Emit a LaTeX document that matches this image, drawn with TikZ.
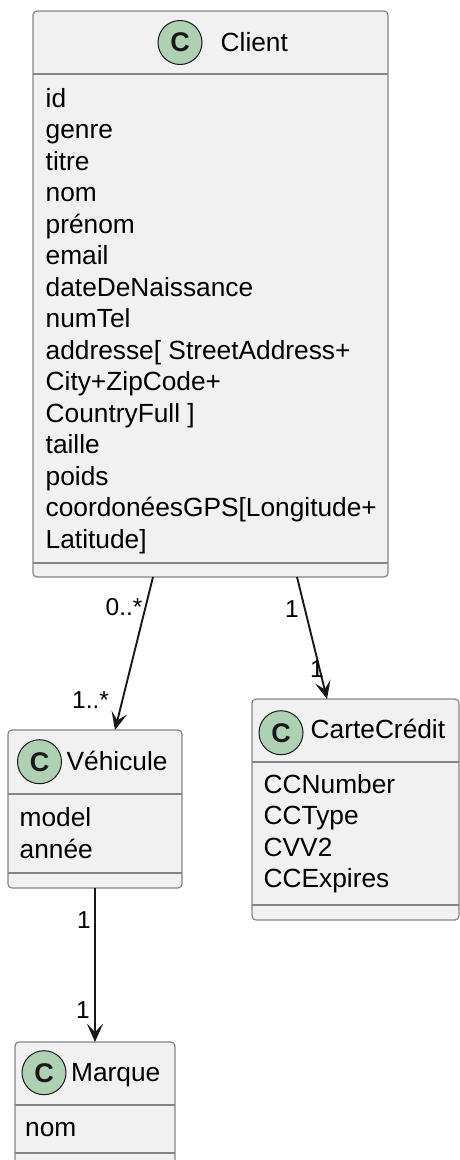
\documentclass[tikz,border=0pt]{standalone}
\usepackage{fontspec}
\setmainfont{Liberation Sans}
\usetikzlibrary{arrows.meta,calc}
\definecolor{boxfill}{HTML}{F1F1F1}
\definecolor{boxline}{HTML}{858585}
\definecolor{spot}{HTML}{ADD1B2}
\definecolor{ink}{HTML}{181818}
\begin{document}
\begin{tikzpicture}[x=1pt,y=-1pt,
  classbox/.style={draw=boxline, line width=1.2pt, fill=boxfill, rounded corners=4pt,
                   anchor=north west, inner sep=0pt, outer sep=0pt},
  sep/.style={draw=boxline, line width=1.2pt},
  spotc/.style={circle, draw=ink, line width=1pt, fill=spot, minimum size=44pt,
                inner sep=0pt, font=\fontsize{27}{27}\selectfont\bfseries, text=ink},
  title/.style={anchor=base west, inner sep=0pt, font=\fontsize{26.3}{31.5}\selectfont},
  attr/.style={anchor=base west, inner sep=0pt, font=\fontsize{26.3}{31.5}\selectfont},
  mult/.style={anchor=base west, inner sep=0pt, font=\fontsize{24.5}{29}\selectfont},
  assoc/.style={draw=ink, line width=1.9pt, -{Stealth[length=18pt,width=16pt,inset=8pt]}}
]
\useasboundingbox (0,0) rectangle (460,1160);

% ---- Client ----
\node[classbox, minimum width=355pt, minimum height=566pt] (client) at (33,11) {};
\draw[sep] (client.west |- 0,74) -- (client.east |- 0,74);
\draw[sep] (client.west |- 0,563) -- (client.east |- 0,563);
\node[spotc] (clientC) at (180,42.5) {C};
\node[title] (clientT) at (220.5,51.7) {Client};
\foreach \t [count=\i from 0] in {id, genre, titre, nom, prénom, email,
    dateDeNaissance, numTel, {addresse[ StreetAddress+}, {City+ZipCode+},
    {CountryFull ]}, taille, poids, {coordonéesGPS[Longitude+}, {Latitude]}}
  \node[attr] (clientA\i) at (45.5,107.3+31.5*\i) {\t};

% ---- Véhicule ----
\node[classbox, minimum width=174pt, minimum height=158pt] (vehicule) at (8,730) {};
\draw[sep] (vehicule.west |- 0,794) -- (vehicule.east |- 0,794);
\draw[sep] (vehicule.west |- 0,873) -- (vehicule.east |- 0,873);
\node[spotc] (vehiculeC) at (39.5,761.7) {C};
\node[title] (vehiculeT) at (66.5,770) {Véhicule};
\node[attr] (vehiculeA0) at (19.5,826.7) {model};
\node[attr] (vehiculeA1) at (19.5,858.2) {année};

% ---- CarteCrédit ----
\node[classbox, minimum width=207pt, minimum height=221pt] (carte) at (252,699) {};
\draw[sep] (carte.west |- 0,762) -- (carte.east |- 0,762);
\draw[sep] (carte.west |- 0,905) -- (carte.east |- 0,905);
\node[spotc] (carteC) at (281,732.7) {C};
\node[title] (carteT) at (310.5,738) {CarteCrédit};
\foreach \t [count=\i from 0] in {CCNumber, CCType, CVV2, CCExpires}
  \node[attr] (carteA\i) at (263.5,793+31.6*\i) {\t};

% ---- Marque ----
\node[classbox, minimum width=160pt, minimum height=126pt] (marque) at (15,1042) {};
\draw[sep] (marque.west |- 0,1105) -- (marque.east |- 0,1105);
\draw[sep] (marque.west |- 0,1153) -- (marque.east |- 0,1153);
\node[spotc] (marqueC) at (44,1072.7) {C};
\node[title] (marqueT) at (71,1081.7) {Marque};
\node[attr] (marqueA0) at (25,1136.7) {nom};

% ---- associations ----
\draw[assoc] ($(client.south west)+(120,0)$) -- ($(vehicule.north west)+(107,0)$);
\draw[assoc] ($(client.south west)+(264,0)$) -- ($(carte.north west)+(75,0)$);
\draw[assoc] ($(vehicule.south west)+(87,0)$) -- ($(marque.north west)+(80,0)$);

% ---- multiplicities ----
\node[mult] (m1) at (105.5,615) {0..*};
\node[mult] (m2) at (72,708) {1..*};
\node[mult] (m3) at (285,617) {1};
\node[mult] (m4) at (310,677) {1};
\node[mult] (m5) at (77,928) {1};
\node[mult] (m6) at (76,1018) {1};
\end{tikzpicture}
\end{document}
